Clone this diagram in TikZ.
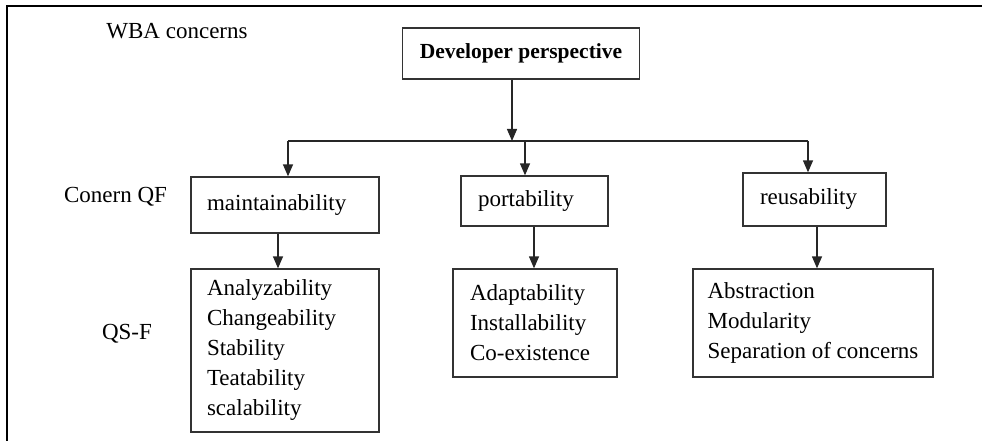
\documentclass[tikz,border=0pt]{standalone}
\usepackage{fontspec}
\setmainfont{Liberation Serif}
\usetikzlibrary{arrows.meta}
\tikzset{
    box/.style={draw=black!80, line width=1.3pt, inner xsep=17pt, align=left},
    link/.style={black!85, line width=1.3pt},
}
\begin{document}
\begin{tikzpicture}[x=1pt,y=-1pt,>={Triangle[width=10pt,length=12pt]},
    font=\fontsize{23}{30}\selectfont]
    \useasboundingbox (0,0) rectangle (982,441);
    %draw frame
    \draw[line width=2.5pt] (7,441) -- (7,6) -- (982,6);
    %draw row labels
    \node (wba) at (177,31) {WBA concerns};
    \node (qf) at (115.5,197) {Conern QF};
    \node (qsf) at (127,334) {QS-F};
    %draw boxes
    \node[box, font=\fontsize{21.5}{26}\selectfont\bfseries, minimum width=220pt,
        minimum height=51pt] (dev) at (521,53.5) {Developer perspective};
    \node[box, text width=156pt, inner xsep=16pt, minimum height=56pt] (maint) at (285,205) {maintainability};
    \node[box, text width=113pt, minimum height=50pt] (port) at (534.5,201) {portability};
    \node[box, text width=109pt, minimum height=53pt] (reuse) at (814.5,199.5) {reusability};
    \node[box, text width=156pt, inner xsep=16pt, minimum height=163pt] (maintqs) at (285,350.5)
        {Analyzability\\Changeability\\Stability\\Teatability\\scalability};
    \node[box, text width=130pt, minimum height=108pt] (portqs) at (535,323)
        {Adaptability\\Installability\\Co-existence};
    \node[box, inner xsep=0pt, minimum width=240pt, minimum height=108pt] (reuseqs) at (813,323)
        {Abstraction\\Modularity\\Separation of concerns};
    %draw connectors
    \coordinate (devout) at (512,141);
    \coordinate (busl) at (288,141);
    \coordinate (busp) at (525,141);
    \coordinate (busr) at (808,141);
    \draw[link,->] (devout |- dev.south) -- (devout);
    \draw[link] (busl) -- (busr);
    \draw[link,->] (busl) -- (busl |- maint.north);
    \draw[link,->] (busp) -- (busp |- port.north);
    \draw[link,->] (busr) -- (busr |- reuse.north);
    \foreach \a/\b/\s in {maint/maintqs/-7, port/portqs/-0.5, reuse/reuseqs/2.5}
        {%
            \draw[link,->] ([xshift=\s pt]\a.south) -- ([xshift=\s pt]\a.south |- \b.north);
        }
\end{tikzpicture}
\end{document}
